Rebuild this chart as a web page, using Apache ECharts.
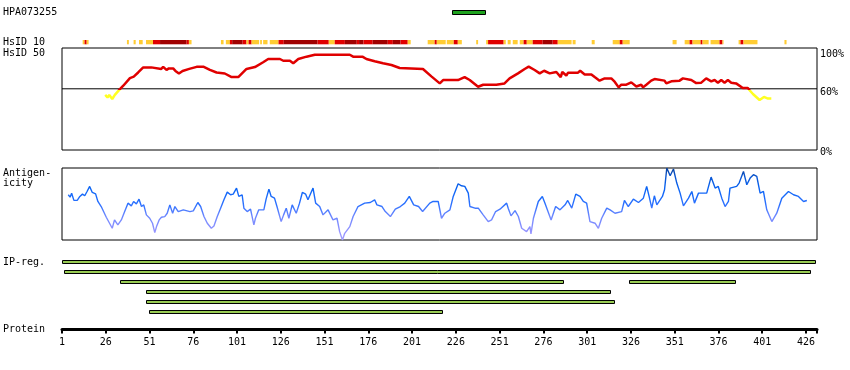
<!DOCTYPE html>
<html><head><meta charset="utf-8">
<script src="https://cdn.jsdelivr.net/npm/echarts@6/dist/echarts.min.js"></script>
<style>html,body{margin:0;padding:0;background:#fff}#c{width:850px;height:370px}</style>
</head><body><div id="c"></div>
<script>
// ---------- DATA ----------
const proteinStart = 1;
const proteinEnd = 432.3;
const proteinTickStep = 25;
const antibodyName = 'HPA073255';
const antibodyRegion = [[223.8, 243]];
const hsidColors = ['#ffcc33', '#e00000', '#a00000'];
// [start residue, end residue, level 0=yellow 1=red 2=dark red]
const hsid10Blocks = [
 [12.8,13.9,0],[13.9,15.1,1],[15.1,16.2,0],[38.1,39.2,0],[41.9,43.1,0],[45,47.1,0],[49,53,0],[53,57,1],[57,72.2,2],[72.2,73.5,1],[73.5,75,0],
 [91.8,93.3,0],[94.6,96.9,0],[96.9,98.2,1],[98.2,104.2,2],[104.2,106.4,1],[106.4,107.6,0],[107.6,109.3,1],[109.3,113.6,0],[114.2,115.2,0],
 [115.9,118.4,0],[119.7,124.7,0],[124.7,127.7,1],[127.7,147,2],[147,153.4,1],[153.4,156.8,0],[156.8,162.6,1],[162.6,169.4,2],[169.4,170.7,1],
 [170.7,173.2,2],[173.2,178.5,1],[178.5,187.1,2],[187.1,190,1],[190,194.4,2],[194.4,198.5,1],[198.5,200.2,0],[209.9,213.9,0],[213.9,215.1,1],
 [215.1,220.2,0],[220.8,224.8,0],[224.8,227.1,1],[227.1,229.4,0],[237.6,238.7,0],[243.3,244.4,0],[244.4,253.3,1],[253.3,254.5,0],[255.6,257.3,0],
 [258.5,261.3,0],[262.5,264.7,0],[264.7,266.5,1],[266.5,269.9,0],[269.9,275.6,1],[275.6,281.3,2],[281.3,284.2,1],[284.2,292.1,0],[292.7,294.4,0],
 [303.6,305.3,0],[315.6,319.6,0],[319.6,321.3,1],[321.3,325.3,0],[349.8,352.1,0],[356.7,359.5,0],[359.5,361.2,1],[361.2,365.8,0],[365.8,366.9,1],
 [366.9,370.4,0],[371.5,376.6,0],[376.6,378.3,1],[378.3,378.9,0],[387.5,388.6,0],[388.6,390.3,1],[390.3,398.3,0],[413.7,414.9,0]
];
const simResidues = [25.7,27,28,29.7,31.2,33.7,36,39.8,42,44.5,47.4,52,53,57.7,58.8,60.7,62,62.9,64.5,65.8,67.8,69.9,73.7,77.9,82,85.5,89.3,94,97.9,101.7,
 106.4,111.2,115.9,118.8,125.5,127.4,131.2,133.1,136,140.7,145.4,165.4,167.3,172.6,174.9,179.6,184.4,189.2,193.9,207.2,208.2,212,216.8,218.7,225.3,226.3,
 227.2,231,233.9,238.7,241.6,249.1,250,253.8,256.7,261.5,265.3,267.6,271,273.9,276.4,279.6,283.4,285.9,286.8,289.1,290.1,295.8,297,299.6,303.4,305.3,
 308.1,311,314.8,316.7,319,320.5,323.4,326.2,329.1,331.9,332.9,334.8,337.6,339.5,345.2,346.2,349.1,353.8,355.7,360.5,363.3,366.2,369,371.9,373.8,375.7,
 377.6,379.5,381.4,383.3,386.1,389.9,392.8,393.8,395.7,399.5,402,404.3,406.2];
const simValues = [54,51.5,54,50,54,59,63,70.5,72,76,81,81,79.5,79.5,81.5,78.5,80,79,80,77.5,75,77.5,79.5,81.5,81.5,78.5,76,75,71.5,71.5,
 79.5,81.3,86,89.2,89.2,87.5,87.5,85,89.2,91.5,93.4,93.4,91.5,91.5,89.2,87,85,83.3,80.4,79.4,78.4,72.2,65.3,68.6,68.6,70.2,
 68.6,71.5,68.6,62,64,64,65.3,65.3,70.2,75.1,79.4,81.7,78.4,75.1,77.7,75.1,76.5,71.5,76.5,73,75.8,75.8,77.7,74.1,74.1,71.5,
 68,70.2,70.2,67,61.4,64,64,66.3,62.3,64,61.4,64,68,69.6,68,65.3,67.3,68,70.2,68.6,65.6,66,70.2,67.3,68.6,66,
 68.6,66,68.6,66,65.3,60.8,60.8,58.6,54.9,49,52,50.4,50.4];
const simTickLabels = {0: '0%', 60: '60%', 100: '100%'};
const simThreshold = 60;
const antResidues = [4.6,5.6,6.5,7.8,9.7,11.2,12.7,14,15.3,16.8,18.3,20.2,21.5,23.4,26.3,29.7,31,32.9,34.9,36.8,38.7,40.6,41.9,43.5,45,46.4,47.7,49.2,51.1,52.7,
 54,55,56.5,57.8,59.7,61.1,62.6,64.2,65.5,67.4,70.3,74.1,76,78.6,80.2,82.1,84,86.3,87.8,89.7,91.6,93.5,95.4,97.3,98.8,100.7,102,103.9,104.9,106.8,
 108.7,110.6,111.5,113.4,116.3,117.6,119.2,120.5,122.4,123.8,126.2,127.6,129.1,130.6,132.5,134.8,136.7,138.3,140.2,141.5,144.4,145.9,148.2,150.1,153,
 155.8,158.1,159.6,161.2,162.5,165.4,167.3,170.1,173.9,177.1,179.6,180.9,183.8,185.7,188.6,191.4,194.3,196.8,199.4,201.9,204.7,207,211.1,213,215.9,
 216.8,217.8,219.7,222.6,224.5,227.3,229.2,231.1,233.1,234,236.9,238.8,241.6,244.5,246.4,248.7,251.2,255,255.9,257.5,259.8,261.7,263.6,266.4,268.3,
 268.9,270.3,273.1,275.4,276.9,280.4,283,285.5,288.4,289.9,292.2,294.5,296.9,298.8,300.7,302.6,305.5,307.4,309.3,312.2,314.1,316.9,320.7,322.3,324.5,
 327.4,330.3,333.1,335,336.4,337.9,339.4,340.8,344,345.2,346.5,348.4,350.3,352.2,354.1,356,358.9,360.8,362.3,364.6,369.3,371.8,374.1,375.9,377.9,
 379.8,381.7,382.6,386.4,387.8,390.3,392.2,394.1,396,397.9,399.8,401.7,403.6,406.5,409.3,412.2,416,418.9,421.7,422.7,424.6,426.5];
const antValues = [62.8,59.5,65,55,55,60.5,63.7,61.5,67.4,74.4,66,64,53.5,46.5,31.6,16.3,27.9,20.9,27.9,39.5,51.2,47.4,53.5,50.2,56.7,46.5,48.8,34.9,30.2,23.3,
 10.2,18.6,27.9,31.6,32.5,37.2,48.8,37.2,46.5,39.5,41.9,39.5,40.5,52.1,46.5,32.6,23.3,16.3,19.5,32.6,44.2,55.8,66.5,62.8,63.7,72.1,60.5,62.8,44.2,39.5,
 42.8,20.9,30.2,41.9,41.9,56.7,70.7,60.5,58.1,46.5,25.6,34.9,44.2,30.2,48.8,37.2,51.2,66,63.7,55.8,72.1,51.2,46.5,34.9,41.9,
 27.9,30.2,11.6,0,9.3,18.6,32.6,46.5,51.2,52.1,55.8,48.8,46.5,39.5,32.6,42.8,46.5,51.2,60.5,48.8,46.5,39.5,51.2,53.5,53.5,
 55.8,30.2,37.2,41.9,60.5,78.1,75.3,74.4,65.1,46.5,44.2,44.2,34.9,25.6,27.9,39.5,42.8,51.2,44.2,33.5,40.9,32.6,16.3,11.6,18.6,
 8.4,30.2,53.5,60.5,51.2,27.9,46.5,41.9,48.8,54.9,44.2,63.7,60.5,53.5,51.2,25.6,23.3,16.3,30.2,44.2,41.9,37.2,39.5,54.9,46.5,
 56.7,52.1,58.1,74.4,60.5,44.2,61.4,48.8,60.5,69.8,100,89.3,98.6,79.1,65.1,47.4,58.1,67.4,51.2,65.1,65.1,87.4,72.1,74.4,58.1,
 46.5,53.5,72.1,74.4,79.1,95.3,76.7,86,90.7,88.4,65.1,67.4,41.9,25.6,37.2,58.1,67.4,62.8,60.5,62.8,53.5,54.9];
// antigenicity colour ramp: [value, colour]
const antColorRamp = [[100, '#0a3c8c'], [86, '#0a55d0'], [70, '#0a64f5'], [50, '#2a70ff'], [35, '#6a86ff'], [15, '#9494ff'], [0, '#a6a0ff']];
// [start, end, row]
const ipRegions = [[1,432,0],[2.3,429.3,1],[34.3,288.2,2],[325,386.4,2],[49.2,315,3],[49.2,317.3,4],[50.9,219,5]];
const ipRowCount = 6;
const leftLabels = [
  {text: antibodyName, y: 12.5},
  {text: 'HsID 10', y: 42.5},
  {text: 'HsID 50', y: 53},
  {text: 'Antigen-', y: 173.5},
  {text: 'icity', y: 183.5},
  {text: 'IP-reg.', y: 262.5},
  {text: 'Protein', y: 329.5}
];

// ---------- CHART ----------
const FONT = '"DejaVu Sans Mono", monospace';
const L = 62, W = 755;
const grids = [
  {left: L, width: W, top: 10, height: 5},      // 0 antibody
  {left: L, width: W, top: 40, height: 4.3},    // 1 HsID 10
  {left: L, width: W, top: 48, height: 102, show: true, borderColor: '#000', borderWidth: 1}, // 2 HsID 50
  {left: L, width: W, top: 168, height: 72, show: true, borderColor: '#000', borderWidth: 1}, // 3 antigenicity
  {left: L, width: W, top: 257.3, height: 60},  // 4 IP-reg
  {left: L, width: W, top: 320, height: 9.5}    // 5 protein axis
];
const xAxes = grids.map((g, i) => ({
  type: 'value', gridIndex: i, min: proteinStart, max: proteinEnd, show: i === 5,
  interval: proteinTickStep, position: 'bottom',
  axisLine: {show: true, lineStyle: {color: '#000', width: 3}},
  axisTick: {show: true, length: 4, lineStyle: {color: '#000', width: 2}},
  splitLine: {show: false},
  axisLabel: {show: true, margin: 8, color: '#000', fontFamily: FONT, fontSize: 10,
    formatter: v => ((v - proteinStart) % proteinTickStep === 0 ? String(v) : '')}
}));
const simLabelKey = {0: 'p0', 60: 'p60', 100: 'p100'};
const yAxes = [
  {type: 'value', gridIndex: 0, min: 0, max: 1, show: false},
  {type: 'value', gridIndex: 1, min: 0, max: 1, show: false},
  {type: 'value', gridIndex: 2, min: 0, max: 100, interval: 20, position: 'right',
    axisLine: {show: false}, axisTick: {show: false}, splitLine: {show: false},
    axisLabel: {show: true, margin: 3, color: '#000', fontFamily: FONT, fontSize: 10,
      formatter: v => (simTickLabels[v] !== undefined ? '{' + simLabelKey[v] + '|' + simTickLabels[v] + '}' : ''),
      rich: {
        p100: {fontFamily: FONT, fontSize: 10, color: '#000', padding: [12, 0, 0, 0]},
        p60: {fontFamily: FONT, fontSize: 10, color: '#000', padding: [7, 0, 0, 0]},
        p0: {fontFamily: FONT, fontSize: 10, color: '#000', padding: [4, 0, 0, 0]}
      }}},
  {type: 'value', gridIndex: 3, min: 0, max: 100, show: false},
  {type: 'value', gridIndex: 4, min: 0, max: ipRowCount, inverse: true, show: false},
  {type: 'value', gridIndex: 5, min: 0, max: 1, show: false}
];

function plainRect(params, api) {
  const p0 = api.coord([api.value(0), 1]);
  const p1 = api.coord([api.value(1), 0]);
  return {type: 'rect', shape: {x: p0[0], y: p0[1], width: p1[0] - p0[0], height: p1[1] - p0[1]},
    style: {fill: hsidColors[api.value(2)]}};
}
function ipBar(params, api) {
  const row = api.value(2);
  const a = api.coord([api.value(0), row + 0.5]);
  const b = api.coord([api.value(1), row + 0.5]);
  const x = Math.round(a[0]) + 0.5, y = Math.round(a[1] - 2) + 0.5;
  return {type: 'rect', shape: {x: x, y: y, width: Math.round(b[0] - a[0]) - 1, height: 3},
    style: {fill: '#99cc55', stroke: '#000', lineWidth: 1}};
}
function hpaBar(params, api) {
  const a = api.coord([api.value(0), 1]);
  const b = api.coord([api.value(1), 0]);
  return {type: 'rect', shape: {x: Math.round(a[0]) + 0.5, y: Math.round(a[1]) + 0.5,
    width: Math.round(b[0] - a[0]) - 1, height: Math.round(b[1] - a[1]) - 1},
    style: {fill: '#1fa31f', stroke: '#000', lineWidth: 1}};
}
// vertical gradient across the line's own bounding box (value max at top, min at bottom)
const simMax = Math.max.apply(null, simValues), simMin = Math.min.apply(null, simValues);
const simCut = (simMax - simThreshold) / (simMax - simMin);
const simGradient = new echarts.graphic.LinearGradient(0, 0, 0, 1, [
  {offset: 0, color: '#e00000'}, {offset: simCut, color: '#e00000'},
  {offset: simCut, color: '#ffff22'}, {offset: 1, color: '#ffff22'}
]);
const antMax = Math.max.apply(null, antValues), antMin = Math.min.apply(null, antValues);
const antGradient = new echarts.graphic.LinearGradient(0, 0, 0, 1,
  antColorRamp.map(s => ({offset: (antMax - s[0]) / (antMax - antMin), color: s[1]})));

const option = {
  animation: false,
  backgroundColor: '#fff',
  grid: grids,
  xAxis: xAxes,
  yAxis: yAxes,
  graphic: leftLabels.map(l => ({type: 'text', x: 3, y: l.y, silent: true,
    style: {text: l.text, font: '10px ' + FONT, fill: '#000', verticalAlign: 'middle'}})),
  series: [
    {type: 'custom', xAxisIndex: 0, yAxisIndex: 0, data: antibodyRegion, renderItem: hpaBar},
    {type: 'custom', xAxisIndex: 1, yAxisIndex: 1, data: hsid10Blocks, renderItem: plainRect},
    {type: 'line', xAxisIndex: 2, yAxisIndex: 2, showSymbol: false, symbol: 'none', silent: true,
      data: [[proteinStart, simThreshold], [proteinEnd, simThreshold]],
      lineStyle: {width: 1, color: '#000'}},
    {type: 'line', xAxisIndex: 2, yAxisIndex: 2, showSymbol: false, symbol: 'none',
      data: simResidues.map((r, i) => [r, simValues[i]]),
      lineStyle: {width: 2.5, color: simGradient}},
    {type: 'line', xAxisIndex: 3, yAxisIndex: 3, showSymbol: false, symbol: 'none',
      data: antResidues.map((r, i) => [r, antValues[i]]),
      lineStyle: {width: 1.4, color: antGradient}},
    {type: 'custom', xAxisIndex: 4, yAxisIndex: 4, data: ipRegions, renderItem: ipBar}
  ]
};
const chart = echarts.init(document.getElementById('c'), null, {renderer: 'canvas'});
chart.setOption(option);
</script>
</body></html>
